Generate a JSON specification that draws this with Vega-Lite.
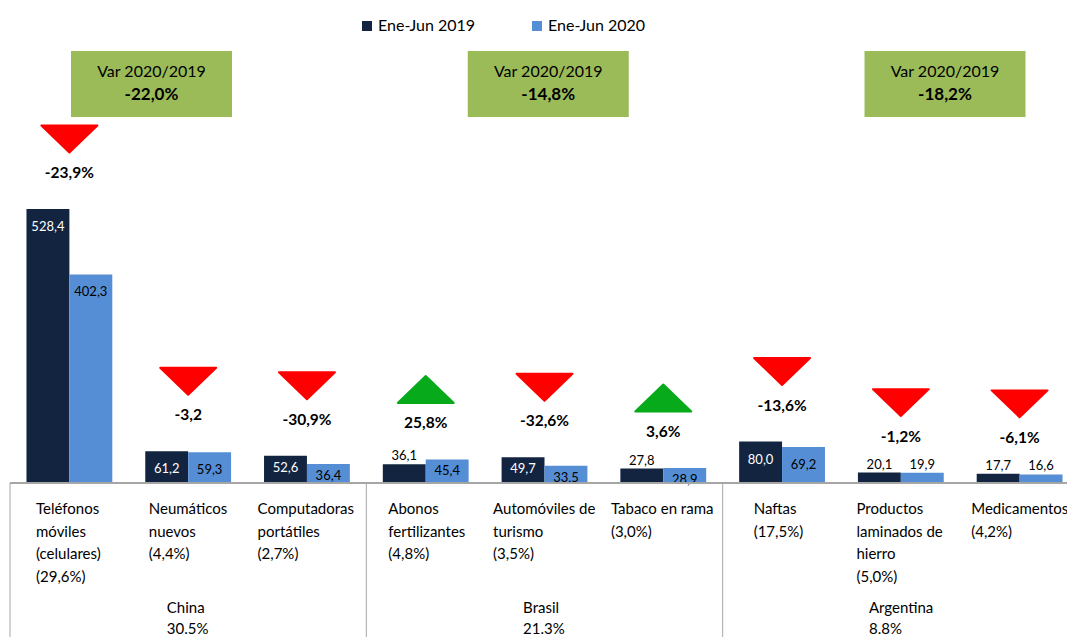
{
  "$schema": "https://vega.github.io/schema/vega-lite/v6.json",
  "width": 1057,
  "height": 483,
  "autosize": "none",
  "padding": {"left": 10, "top": 0, "right": 0, "bottom": 154},
  "background": "white",
  "config": {
    "view": {"stroke": null},
    "font": "Lato",
    "locale": {"number": {"decimal": ",", "thousands": ".", "grouping": [3], "currency": ["", " €"]}}
  },
  "datasets": {
    "productos": [
      {"grupo": "China", "producto": "Teléfonos móviles (celulares)", "etiqueta": "Teléfonos|móviles|(celulares)|(29,6%)", "Ene-Jun 2019": 528.4, "Ene-Jun 2020": 402.3, "variacion": -23.9, "var_texto": "-23,9%"},
      {"grupo": "China", "producto": "Neumáticos nuevos", "etiqueta": "Neumáticos|nuevos|(4,4%)", "Ene-Jun 2019": 61.2, "Ene-Jun 2020": 59.3, "variacion": -3.2, "var_texto": "-3,2"},
      {"grupo": "China", "producto": "Computadoras portátiles", "etiqueta": "Computadoras|portátiles|(2,7%)", "Ene-Jun 2019": 52.6, "Ene-Jun 2020": 36.4, "variacion": -30.9, "var_texto": "-30,9%"},
      {"grupo": "Brasil", "producto": "Abonos fertilizantes", "etiqueta": "Abonos|fertilizantes|(4,8%)", "Ene-Jun 2019": 36.1, "Ene-Jun 2020": 45.4, "variacion": 25.8, "var_texto": "25,8%"},
      {"grupo": "Brasil", "producto": "Automóviles de turismo", "etiqueta": "Automóviles de|turismo|(3,5%)", "Ene-Jun 2019": 49.7, "Ene-Jun 2020": 33.5, "variacion": -32.6, "var_texto": "-32,6%"},
      {"grupo": "Brasil", "producto": "Tabaco en rama", "etiqueta": "Tabaco en rama|(3,0%)", "Ene-Jun 2019": 27.8, "Ene-Jun 2020": 28.9, "variacion": 3.6, "var_texto": "3,6%"},
      {"grupo": "Argentina", "producto": "Naftas", "etiqueta": "Naftas|(17,5%)", "Ene-Jun 2019": 80.0, "Ene-Jun 2020": 69.2, "variacion": -13.6, "var_texto": "-13,6%"},
      {"grupo": "Argentina", "producto": "Productos laminados de hierro", "etiqueta": "Productos|laminados de|hierro|(5,0%)", "Ene-Jun 2019": 20.1, "Ene-Jun 2020": 19.9, "variacion": -1.2, "var_texto": "-1,2%"},
      {"grupo": "Argentina", "producto": "Medicamentos", "etiqueta": "Medicamentos|(4,2%)", "Ene-Jun 2019": 17.7, "Ene-Jun 2020": 16.6, "variacion": -6.1, "var_texto": "-6,1%"}
    ],
    "grupos": [
      {"grupo": "China", "etiqueta": "China|30.5%", "var_total": "-22,0%", "primer_producto": "Teléfonos móviles (celulares)", "producto_central": "Neumáticos nuevos"},
      {"grupo": "Brasil", "etiqueta": "Brasil|21.3%", "var_total": "-14,8%", "primer_producto": "Abonos fertilizantes", "producto_central": "Automóviles de turismo"},
      {"grupo": "Argentina", "etiqueta": "Argentina|8.8%", "var_total": "-18,2%", "primer_producto": "Naftas", "producto_central": "Productos laminados de hierro"}
    ]
  },
  "resolve": {"scale": {"x": "independent"}},
  "layer": [
    {
      "data": {"name": "productos"},
      "layer": [
        {
          "transform": [{"fold": ["Ene-Jun 2019", "Ene-Jun 2020"], "as": ["periodo", "valor"]}],
          "mark": {"type": "bar"},
          "encoding": {
            "x": {"field": "producto", "type": "nominal", "axis": null, "sort": null,
              "scale": {"domain": ["Teléfonos móviles (celulares)", "Neumáticos nuevos", "Computadoras portátiles", "Abonos fertilizantes", "Automóviles de turismo", "Tabaco en rama", "Naftas", "Productos laminados de hierro", "Medicamentos"], "range": [0, 1069], "paddingInner": 0, "paddingOuter": 0}},
            "xOffset": {"field": "periodo", "type": "nominal", "scale": {"domain": ["Ene-Jun 2019", "Ene-Jun 2020"], "paddingInner": 0, "paddingOuter": 0.384}},
            "y": {"field": "valor", "type": "quantitative", "axis": null, "scale": {"domain": [0, 931.4], "nice": false, "zero": true}},
            "color": {"field": "periodo", "type": "nominal",
              "scale": {"domain": ["Ene-Jun 2019", "Ene-Jun 2020"], "range": ["#12243f", "#558ed5"]},
              "legend": {"orient": "none", "legendX": 349, "legendY": 18, "direction": "horizontal", "title": null, "symbolType": "square", "symbolSize": 100, "symbolStrokeWidth": 0, "labelFontSize": 16, "labelFont": "Lato", "labelColor": "black", "columnPadding": 53, "labelOffset": 3, "padding": 0}}
          }
        },
        {
          "transform": [
            {"fold": ["Ene-Jun 2019", "Ene-Jun 2020"], "as": ["periodo", "valor"]},
            {"filter": "!(datum.producto === 'Productos laminados de hierro' || datum.producto === 'Medicamentos' || (datum.periodo === 'Ene-Jun 2019' && (datum.producto === 'Abonos fertilizantes' || datum.producto === 'Tabaco en rama'))) && datum.valor > 55"}
          ],
          "mark": {"type": "text", "fontSize": 13, "baseline": "middle", "dy": 18},
          "encoding": {
            "x": {"field": "producto", "type": "nominal"},
            "xOffset": {"field": "periodo", "type": "nominal"},
            "y": {"field": "valor", "type": "quantitative"},
            "text": {"field": "valor", "type": "quantitative", "format": ".1f"},
            "color": {"condition": {"test": "datum.periodo === 'Ene-Jun 2019'", "value": "white"}, "value": "black"}
          }
        },
        {
          "transform": [
            {"fold": ["Ene-Jun 2019", "Ene-Jun 2020"], "as": ["periodo", "valor"]},
            {"filter": "!(datum.producto === 'Productos laminados de hierro' || datum.producto === 'Medicamentos' || (datum.periodo === 'Ene-Jun 2019' && (datum.producto === 'Abonos fertilizantes' || datum.producto === 'Tabaco en rama'))) && datum.valor <= 55"}
          ],
          "mark": {"type": "text", "fontSize": 13, "baseline": "middle", "dy": 12},
          "encoding": {
            "x": {"field": "producto", "type": "nominal"},
            "xOffset": {"field": "periodo", "type": "nominal"},
            "y": {"field": "valor", "type": "quantitative"},
            "text": {"field": "valor", "type": "quantitative", "format": ".1f"},
            "color": {"condition": {"test": "datum.periodo === 'Ene-Jun 2019'", "value": "white"}, "value": "black"}
          }
        },
        {
          "transform": [
            {"fold": ["Ene-Jun 2019", "Ene-Jun 2020"], "as": ["periodo", "valor"]},
            {"filter": "datum.producto === 'Productos laminados de hierro' || datum.producto === 'Medicamentos' || (datum.periodo === 'Ene-Jun 2019' && (datum.producto === 'Abonos fertilizantes' || datum.producto === 'Tabaco en rama'))"}
          ],
          "mark": {"type": "text", "fontSize": 13, "baseline": "middle", "dy": -8, "color": "black"},
          "encoding": {
            "x": {"field": "producto", "type": "nominal"},
            "xOffset": {"field": "periodo", "type": "nominal"},
            "y": {"field": "valor", "type": "quantitative"},
            "text": {"field": "valor", "type": "quantitative", "format": ".1f"}
          }
        },
        {
          "transform": [{"fold": ["Ene-Jun 2019", "Ene-Jun 2020"], "as": ["periodo", "valor"]}],
          "mark": {"type": "point", "filled": true, "size": 3136, "opacity": 1, "strokeWidth": 2, "strokeJoin": "round", "yOffset": -70},
          "encoding": {
            "x": {"field": "producto", "type": "nominal"},
            "y": {"aggregate": "max", "field": "valor", "type": "quantitative"},
            "detail": {"field": "variacion", "type": "quantitative"},
            "shape": {"condition": {"test": "datum.variacion > 0", "value": "M-1,0.48L1,0.48L0,-0.48Z"}, "value": "M-1,-0.48L1,-0.48L0,0.48Z"},
            "fill": {"condition": {"test": "datum.variacion > 0", "value": "#06aa1b"}, "value": "#ff0000"},
            "stroke": {"condition": {"test": "datum.variacion > 0", "value": "#06aa1b"}, "value": "#ff0000"}
          }
        },
        {
          "transform": [{"fold": ["Ene-Jun 2019", "Ene-Jun 2020"], "as": ["periodo", "valor"]}],
          "mark": {"type": "text", "fontSize": 15.5, "fontWeight": "bold", "baseline": "middle", "dy": -36, "color": "black"},
          "encoding": {
            "x": {"field": "producto", "type": "nominal"},
            "y": {"aggregate": "max", "field": "valor", "type": "quantitative"},
            "text": {"field": "var_texto", "type": "nominal"}
          }
        },
        {
          "mark": {"type": "text", "fontSize": 15, "align": "left", "baseline": "alphabetic", "lineBreak": "|", "lineHeight": 22.6, "dy": 31, "color": "black",
            "dx": {"expr": "[26,20,10,22,8,7,31,15,11][indexof(['Teléfonos móviles (celulares)','Neumáticos nuevos','Computadoras portátiles','Abonos fertilizantes','Automóviles de turismo','Tabaco en rama','Naftas','Productos laminados de hierro','Medicamentos'], datum.producto)]"}},
          "encoding": {
            "x": {"field": "producto", "type": "nominal", "bandPosition": 0},
            "y": {"datum": 0},
            "text": {"field": "etiqueta", "type": "nominal"}
          }
        },
        {
          "data": {"name": "grupos"},
          "mark": {"type": "text", "fontSize": 15, "align": "left", "baseline": "alphabetic", "lineBreak": "|", "lineHeight": 20.5, "dy": 130, "color": "black",
            "dx": {"expr": "datum.grupo === 'Argentina' ? 27.5 : 38"}},
          "encoding": {
            "x": {"field": "producto_central", "type": "nominal", "bandPosition": 0},
            "y": {"datum": 0},
            "text": {"field": "etiqueta", "type": "nominal"}
          }
        },
        {
          "data": {"name": "grupos"},
          "mark": {"type": "rule", "color": "#a6a6a6", "strokeWidth": 1},
          "encoding": {
            "x": {"field": "primer_producto", "type": "nominal", "bandPosition": 0},
            "y": {"datum": 0},
            "y2": {"datum": -297}
          }
        },
        {
          "mark": {"type": "rule", "color": "#a6a6a6", "strokeWidth": 1.5},
          "encoding": {"y": {"datum": 0}}
        }
      ]
    },
    {
      "data": {"name": "grupos"},
      "encoding": {
        "x": {"field": "grupo", "type": "nominal", "axis": null, "sort": null,
          "scale": {"type": "point", "domain": ["China", "Brasil", "Argentina"], "range": [141.5, 935], "padding": 0}}
      },
      "layer": [
        {
          "mark": {"type": "bar", "width": 161, "color": "#9bbb59"},
          "encoding": {"y": {"datum": 833}, "y2": {"datum": 706}}
        },
        {
          "mark": {"type": "text", "fontSize": 16, "baseline": "alphabetic", "dy": 26, "color": "black"},
          "encoding": {"y": {"datum": 833}, "text": {"value": "Var 2020/2019"}}
        },
        {
          "mark": {"type": "text", "fontSize": 17, "fontWeight": "bold", "baseline": "alphabetic", "dy": 49, "color": "black"},
          "encoding": {"y": {"datum": 833}, "text": {"field": "var_total", "type": "nominal"}}
        }
      ]
    }
  ]
}
